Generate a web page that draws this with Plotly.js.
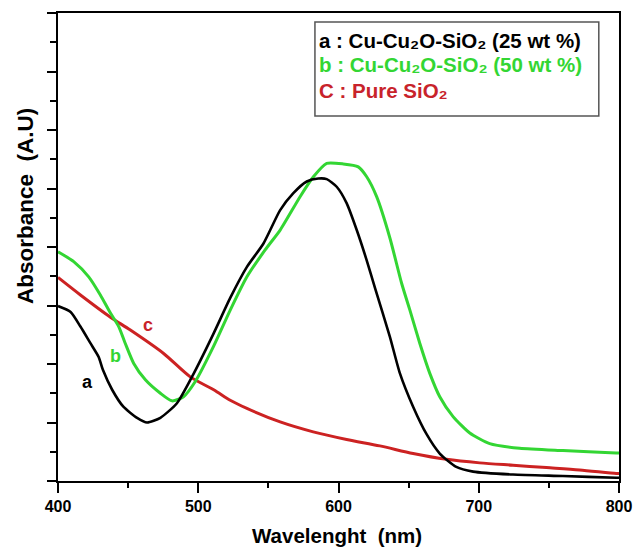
<!DOCTYPE html>
<html>
<head>
<meta charset="utf-8">
<script src="https://cdn.plot.ly/plotly-3.0.1.min.js"></script>
<style>
html,body{margin:0;padding:0;background:#fff;}
#chart{width:633px;height:549px;}
</style>
</head>
<body>
<div id="chart"></div>
<script>
// Wavelength (nm) and absorbance (arbitrary units)
const wlA = [400,409,416,423,429,432,438.6,446.6,456.4,463.5,473,484.8,495.5,510.9,522.8,534.7,546.5,558.4,567.8,577.4,585.6,591.6,598.7,605.8,613,620,626,636.6,643.8,653.2,662.8,672.2,684,696,724.4,760,798,800];
const absA = [2.99,2.89,2.64,2.36,2.12,1.90,1.56,1.27,1.08,1.00,1.08,1.33,1.78,2.52,3.13,3.66,4.06,4.63,4.92,5.12,5.17,5.16,5.03,4.75,4.29,3.78,3.30,2.47,1.84,1.27,0.80,0.47,0.24,0.16,0.11,0.085,0.056,0.055];

const wlB = [400,411.2,421.9,430.2,437.4,443.3,448,454,462.3,473,481.3,489.5,497.9,510.9,522.8,534.7,547.7,558.4,572.6,582.1,591.6,603.4,614.1,620.1,627.2,636.7,645,650.9,658,665.1,672.2,681.7,693.6,707.8,729.2,760,798,800];
const absB = [3.92,3.75,3.49,3.18,2.87,2.64,2.35,2.01,1.73,1.50,1.37,1.44,1.70,2.30,2.92,3.49,3.95,4.29,4.86,5.20,5.43,5.42,5.37,5.20,4.86,4.15,3.38,2.92,2.35,1.84,1.44,1.10,0.82,0.64,0.56,0.52,0.48,0.48];

const wlC = [400,416,437.4,451.6,475.3,494.3,511,522.8,534.7,558.4,582,605.8,629.5,653.2,677,700.7,724.4,748.2,771.9,798,800];
const absC = [3.48,3.18,2.80,2.58,2.18,1.78,1.56,1.38,1.24,1.01,0.84,0.71,0.60,0.47,0.37,0.31,0.27,0.23,0.19,0.13,0.13];

const xTicks = [400,500,600,700,800];
const legendLines = [
  "a : Cu-Cu\u2082O-SiO\u2082 (25 wt %)",
  "b : Cu-Cu\u2082O-SiO\u2082 (50 wt %)",
  "C : Pure SiO\u2082"
];
const curveLabels = ["a","b","c"];
const labelPos = [[421,1.69],[441,2.14],[464.4,2.67]];

const colA = "#000000", colB = "#33d633", colC = "#cc2222";
const F = "Liberation Sans, Arial, sans-serif";

const traces = [
  {x: wlC, y: absC, mode: "lines", line: {color: colC, width: 3, shape: "spline", smoothing: 0.8}, hoverinfo: "skip"},
  {x: wlB, y: absB, mode: "lines", line: {color: colB, width: 3, shape: "spline", smoothing: 0.6}, hoverinfo: "skip"},
  {x: wlA, y: absA, mode: "lines", line: {color: colA, width: 2.6, shape: "spline", smoothing: 0.6}, hoverinfo: "skip"}
];

const legendY = [0.942, 0.889, 0.835];
const legendCol = [colA, colB, "#c8232b"];
const annotations = [];
legendLines.forEach((t, i) => annotations.push({
  text: t, xref: "paper", yref: "paper", x: 0.4617, y: legendY[i],
  xanchor: "left", yanchor: "middle", showarrow: false,
  font: {family: F, size: 20.5, weight: "bold", color: legendCol[i]}
}));
const lblCol = [colA, colB, "#c8232b"];
curveLabels.forEach((t, i) => annotations.push({
  text: t, x: labelPos[i][0], y: labelPos[i][1], xref: "x", yref: "y",
  showarrow: false, font: {family: F, size: 18, weight: "bold", color: lblCol[i]}
}));
annotations.push({
  text: "Absorbance  (A.U)", xref: "paper", yref: "paper", x: -0.0588, y: 0.5876,
  textangle: -90, showarrow: false, xanchor: "center", yanchor: "middle",
  font: {family: F, size: 22.5, weight: "bold", color: "#000"}
});
annotations.push({
  text: "Wavelenght  (nm)", xref: "paper", yref: "paper", x: 0.498, y: -0.1154,
  showarrow: false, xanchor: "center", yanchor: "middle",
  font: {family: F, size: 20.5, weight: "bold", color: "#000"}
});

const layout = {
  width: 633, height: 549,
  margin: {l: 58, r: 14, t: 13, b: 68},
  paper_bgcolor: "#fff", plot_bgcolor: "#fff",
  showlegend: false,
  xaxis: {
    range: [400, 800], tickvals: xTicks, ticktext: xTicks.map(String),
    ticks: "outside", ticklen: 10, tickwidth: 2, tickcolor: "#000",
    minor: {dtick: 50, ticks: "outside", ticklen: 5, tickwidth: 2, tickcolor: "#000"},
    showline: true, linecolor: "#000", linewidth: 2, mirror: true,
    showgrid: false, zeroline: false,
    tickfont: {family: F, size: 16, weight: "bold", color: "#000"}
  },
  yaxis: {
    range: [0, 8], dtick: 1, showticklabels: false,
    ticks: "outside", ticklen: 9, tickwidth: 2, tickcolor: "#000",
    minor: {dtick: 0.5, ticks: "outside", ticklen: 6, tickwidth: 2, tickcolor: "#000"},
    showline: true, linecolor: "#000", linewidth: 2, mirror: true,
    showgrid: false, zeroline: false
  },
  shapes: [{
    type: "rect", xref: "paper", yref: "paper",
    x0: 0.458, x1: 0.964, y0: 0.780, y1: 0.981,
    line: {color: "#555", width: 1.5}, fillcolor: "rgba(0,0,0,0)"
  }],
  annotations: annotations
};

Plotly.newPlot("chart", traces, layout, {staticPlot: true, displayModeBar: false});
</script>
</body>
</html>
